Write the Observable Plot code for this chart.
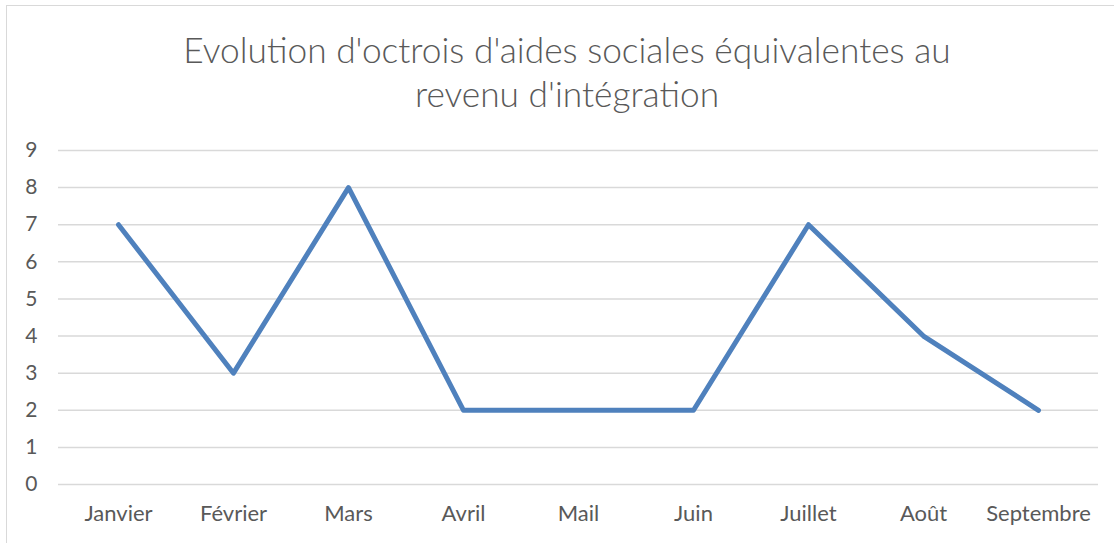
<!DOCTYPE html>
<html>
<head>
<meta charset="utf-8">
<script src="https://cdn.jsdelivr.net/npm/d3@7"></script>
<script src="https://cdn.jsdelivr.net/npm/@observablehq/plot@0.6"></script>
<style>
  html, body { margin: 0; padding: 0; background: #fff; overflow: hidden; }
  #frame { position: absolute; left: 6px; top: 5px; width: 1200px; height: 600px; border-left: 1.5px solid #d9d9d9; border-top: 1.5px solid #d9d9d9; }
  #wrap { position: absolute; left: 0; top: 0; width: 1114px; height: 543px; }
  #title { position: absolute; left: 0; top: 28px; width: 1134px; text-align: center; font-family: Lato, "Open Sans", sans-serif; font-weight: 300; font-size: 35.3px; line-height: 44px; color: #595959; }
  #chart { position: absolute; left: 0; top: 120px; }
</style>
</head>
<body>
<div id="frame"></div>
<div id="wrap">
  <div id="title">Evolution d'octrois d'aides sociales équivalentes au<br>revenu d'intégration</div>
  <div id="chart"></div>
</div>
<script>
const months = ["Janvier", "Février", "Mars", "Avril", "Mail", "Juin", "Juillet", "Août", "Septembre"];
const values = [7, 3, 8, 2, 2, 2, 7, 4, 2];
const yTicks = [0, 1, 2, 3, 4, 5, 6, 7, 8, 9];

const data = months.map((m, i) => ({month: m, value: values[i]}));

const chart = Plot.plot({
  width: 1114,
  height: 423,
  marginLeft: 58,
  marginRight: 16,
  marginTop: 30,
  marginBottom: 59,
  style: {fontFamily: "Lato, 'Open Sans', sans-serif", color: "#595959", background: "transparent"},
  x: {type: "point", domain: months, padding: 0.5, label: null},
  y: {domain: [0, 9], label: null},
  marks: [
    Plot.ruleY(yTicks, {stroke: "#d9d9d9", strokeWidth: 1.5, strokeOpacity: 1}),
    Plot.axisY(yTicks, {tickSize: 0, tickPadding: 21, textAnchor: "end", fill: "#595959", fontSize: 21, label: null}),
    Plot.axisX(months, {tickSize: 0, tickPadding: 21, fill: "#595959", fontSize: 22, label: null}),
    Plot.line(data, {x: "month", y: "value", stroke: "#4f81bd", strokeWidth: 5, strokeLinecap: "round", strokeLinejoin: "round"})
  ]
});
document.getElementById("chart").appendChild(chart);
</script>
</body>
</html>
